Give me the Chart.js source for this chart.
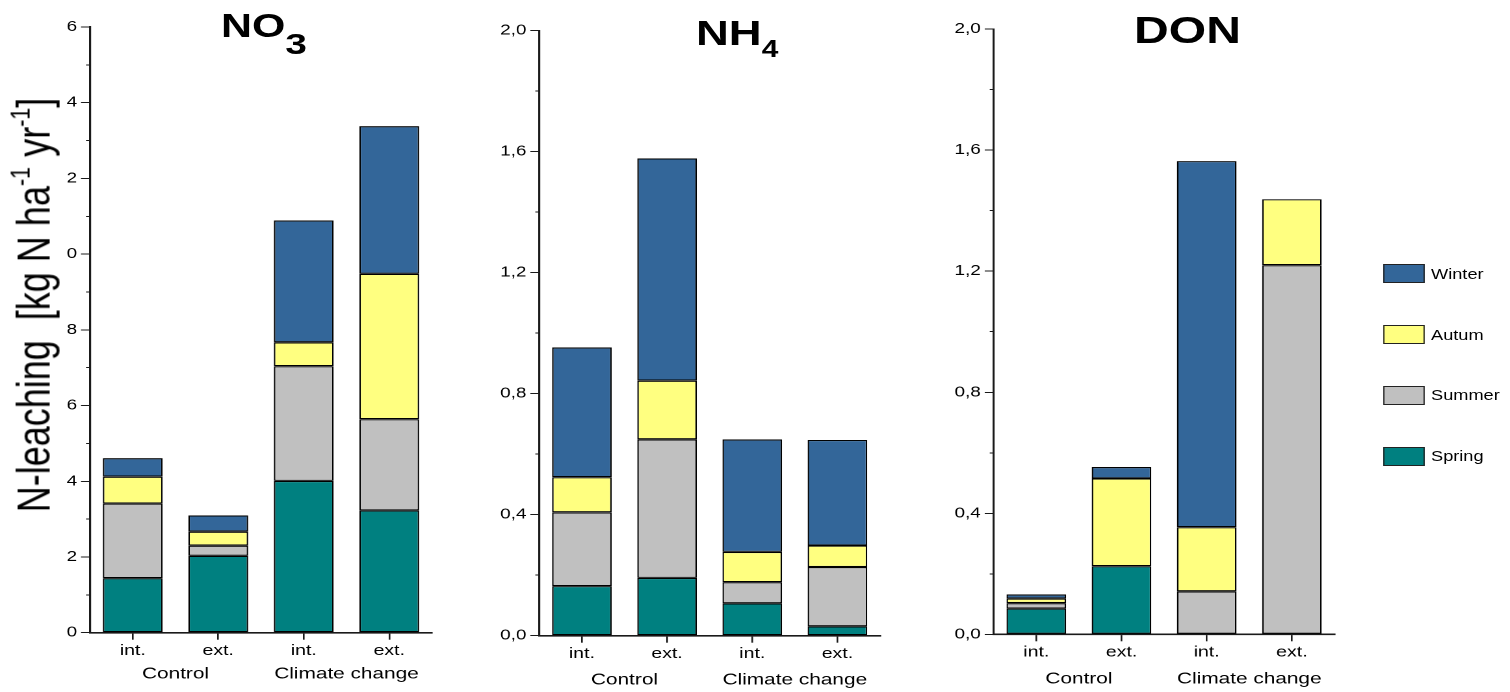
<!DOCTYPE html>
<html>
<head>
<meta charset="utf-8">
<script src="https://cdn.jsdelivr.net/npm/chart.js@4.4.1/dist/chart.umd.min.js"></script>
<style>
  html, body { margin: 0; padding: 0; background: #fff; overflow: hidden; }
  /* the reference is stretched horizontally, so the whole figure is drawn narrow and widened */
  #fig {
    position: absolute; left: 0; top: 0; width: 1162px; height: 692px;
    transform: scaleX(1.3); transform-origin: 0 0;
    font-family: "Liberation Sans", Arial, sans-serif; color: #000;
  }
  canvas { position: absolute; top: 0; }
  .title { position: absolute; font-weight: bold; white-space: nowrap; line-height: 1; }
  .title span { position: relative; }
  #ytitle {
    position: absolute; white-space: nowrap; font-size: 36px; line-height: 1;
    transform: translate(-50%, -50%) rotate(-90deg);
  }
  #ytitle sup { font-size: 0.6em; vertical-align: 0.7em; line-height: 0; }
  .leg-box { position: absolute; box-sizing: border-box; border: 1px solid #222; }
  .leg-text { position: absolute; font-size: 14px; line-height: 1; transform: translateY(-50%); }
</style>
</head>
<body>
<div id="fig">
  <canvas id="no3Chart"></canvas>
  <canvas id="nh4Chart"></canvas>
  <canvas id="donChart"></canvas>
  <div class="title" id="t1" style="font-size:33px">NO<span style="font-size:30px;top:17px">3</span></div>
  <div class="title" id="t2" style="font-size:35px">NH<span style="font-size:23px;top:12px">4</span></div>
  <div class="title" id="t3" style="font-size:37px">DON</div>
  <div id="ytitle">N-leaching&nbsp; [kg N ha<sup>-1</sup> yr<sup>-1</sup>]</div>
  <div id="legend"></div>
</div>
<script>
const S = 1.3; // horizontal stretch of the reference

const CATEGORIES = ['int.', 'ext.', 'int.', 'ext.'];
const GROUPS = ['Control', 'Climate change'];
const SEASONS = ['Spring', 'Summer', 'Autum', 'Winter'];
const SEASON_COLORS = ['#008080', '#C0C0C0', '#FFFF80', '#336699'];

// NO3 (axis printed 0..16 with only the last digit shown)
const NO3_SPRING = [1.44, 2.03, 4.01, 3.23];
const NO3_SUMMER = [1.97, 0.27, 3.03, 2.41];
const NO3_AUTUMN = [0.71, 0.37, 0.63, 3.84];
const NO3_WINTER = [0.49, 0.43, 3.22, 3.90];

// NH4
const NH4_SPRING = [0.164, 0.191, 0.107, 0.031];
const NH4_SUMMER = [0.244, 0.458, 0.070, 0.196];
const NH4_AUTUMN = [0.116, 0.194, 0.100, 0.071];
const NH4_WINTER = [0.429, 0.735, 0.372, 0.349];

// DON (null = no segment)
const DON_SPRING = [0.085, 0.225, null, null];
const DON_SUMMER = [0.018, null, 0.142, 1.220];
const DON_AUTUMN = [0.015, 0.290, 0.212, 0.218];
const DON_WINTER = [0.014, 0.038, 1.210, null];

const AXIS_COLOR = '#1a1a1a';
Chart.defaults.font.family = '"Liberation Sans", Arial, sans-serif';
Chart.defaults.color = '#000';

const commaFmt = v => v.toFixed(1).replace('.', ',');
const lastDigit = v => String(Math.round(v) % 10);

// positions in final (stretched) pixels, canvas bounds in narrow pixels
function makeChart(id, series, o) {
  const canvas = document.getElementById(id);
  canvas.width = o.canvasW;
  canvas.height = 692;
  canvas.style.left = o.canvasL + 'px';
  const yWidth = o.axisX / S - o.canvasL;
  const rightPad = o.canvasL + o.canvasW - o.axisEnd / S;

  return new Chart(canvas, {
    type: 'bar',
    data: {
      labels: CATEGORIES,
      datasets: SEASONS.map((name, i) => ({
        label: name,
        data: series[i],
        backgroundColor: SEASON_COLORS[i],
        borderColor: '#000',
        borderWidth: 1.2,
        borderSkipped: false,
        barPercentage: 0.7,
        categoryPercentage: 1,
      })),
    },
    options: {
      responsive: false,
      animation: false,
      devicePixelRatio: 2,
      layout: { padding: { left: 0, top: o.top, right: rightPad, bottom: 0 } },
      plugins: { legend: { display: false }, tooltip: { enabled: false } },
      scales: {
        x: {
          axis: 'x', stacked: true, offset: true, weight: 0,
          afterFit: s => { s.height = 25; },
          grid: { offset: false, drawOnChartArea: false, tickLength: 7, color: AXIS_COLOR, lineWidth: 1.3 },
          border: { color: AXIS_COLOR, width: 1.6 },
          ticks: { font: { size: 15 }, padding: 2, maxRotation: 0, autoSkip: false },
        },
        x2: {
          type: 'category', axis: 'x', position: 'bottom', labels: GROUPS, offset: true, weight: 1,
          afterFit: s => { s.height = 692 - o.bottom - 25; },
          grid: { display: false, drawTicks: false },
          border: { display: false },
          ticks: { font: { size: 16 }, padding: o.groupPad, maxRotation: 0, autoSkip: false },
        },
        y: {
          axis: 'y', position: 'left', stacked: true, min: 0, max: o.max, weight: 1,
          afterFit: s => { s.width = yWidth; },
          ticks: { stepSize: o.step, font: { size: 14.5 }, padding: 3, callback: o.fmt },
          grid: { drawOnChartArea: false, tickLength: 9 / S, color: AXIS_COLOR },
          border: { color: AXIS_COLOR, width: 1.6 },
        },
        yMinor: {
          axis: 'y', position: 'left', min: 0, max: o.max, weight: 0,
          afterFit: s => { s.width = 0; },
          ticks: { display: false, stepSize: o.step / 2 },
          grid: { drawOnChartArea: false, tickLength: 4 / S, color: AXIS_COLOR },
          border: { display: false },
        },
      },
    },
  });
}

makeChart('no3Chart', [NO3_SPRING, NO3_SUMMER, NO3_AUTUMN, NO3_WINTER], {
  canvasL: 0, canvasW: 354, axisX: 90, axisEnd: 432, top: 27, bottom: 632.7,
  max: 16, step: 2, fmt: lastDigit, groupPad: 7,
});
makeChart('nh4Chart', [NH4_SPRING, NH4_SUMMER, NH4_AUTUMN, NH4_WINTER], {
  canvasL: 354, canvasW: 361, axisX: 539.3, axisEnd: 880, top: 30.7, bottom: 635.7,
  max: 2, step: 0.4, fmt: commaFmt, groupPad: 10,
});
makeChart('donChart', [DON_SPRING, DON_SUMMER, DON_AUTUMN, DON_WINTER], {
  canvasL: 715, canvasW: 337, axisX: 993.7, axisEnd: 1334.5, top: 29.2, bottom: 634.3,
  max: 2, step: 0.4, fmt: commaFmt, groupPad: 10,
});

// text placed in final pixel coordinates
function place(id, x, y) {
  const el = document.getElementById(id);
  el.style.left = (x / S) + 'px';
  el.style.top = y + 'px';
}
place('t1', 221, 9);
place('t2', 696, 15);
place('t3', 1134, 12);
place('ytitle', 34, 305);

// legend, Winter on top
const legend = document.getElementById('legend');
const legTops = [264, 325, 385.5, 446.5];
SEASONS.slice().reverse().forEach((name, k) => {
  const color = SEASON_COLORS[SEASONS.length - 1 - k];
  const box = document.createElement('div');
  box.className = 'leg-box';
  box.style.cssText = `left:${1383 / S}px;top:${legTops[k]}px;width:${42 / S}px;height:19px;background:${color}`;
  const txt = document.createElement('div');
  txt.className = 'leg-text';
  txt.textContent = name;
  txt.style.cssText = `left:${1431 / S}px;top:${legTops[k] + 9.5}px`;
  legend.appendChild(box);
  legend.appendChild(txt);
});
</script>
</body>
</html>
